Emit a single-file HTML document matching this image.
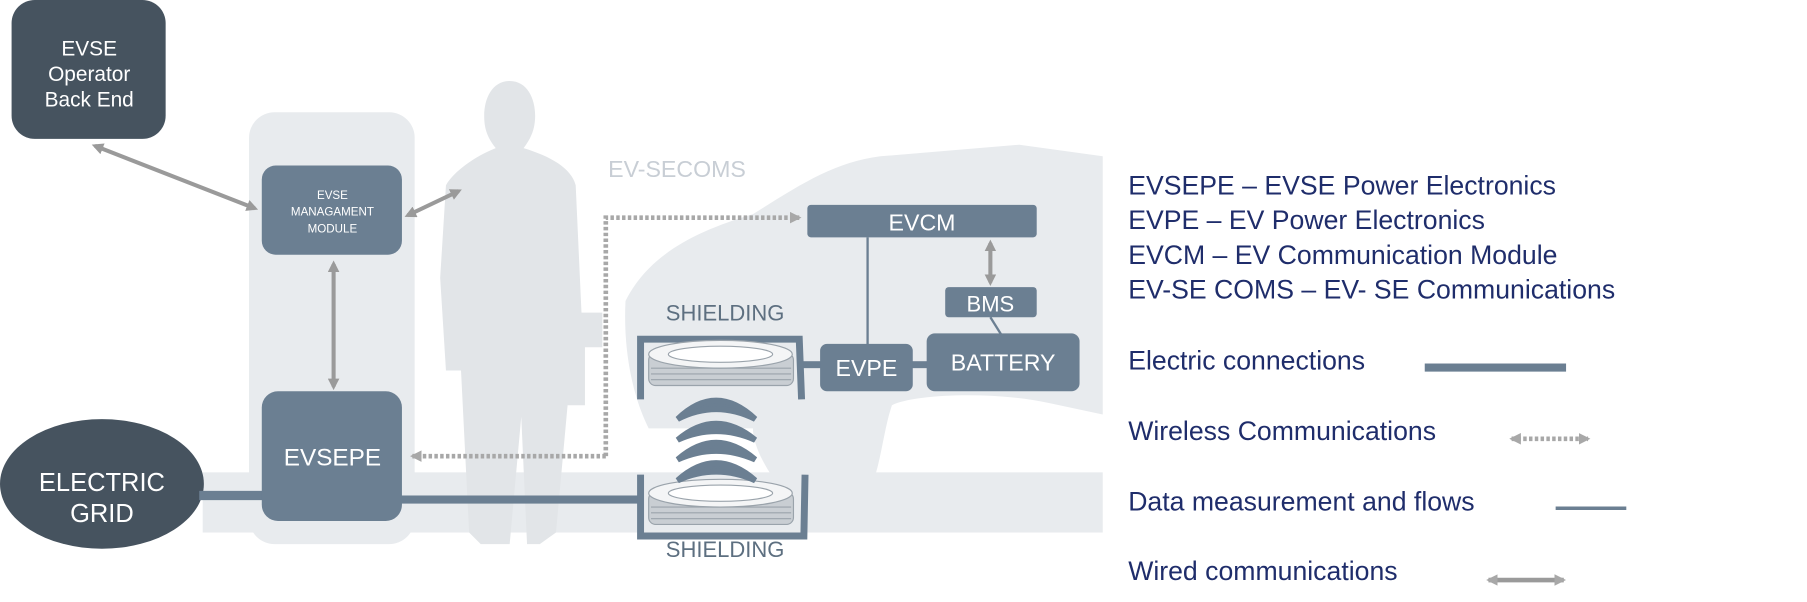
<!DOCTYPE html>
<html><head><meta charset="utf-8"><style>
html,body{margin:0;padding:0;background:#fff;width:1807px;height:602px;overflow:hidden}
svg{display:block}
text{font-family:"Liberation Sans Narrow","Liberation Sans",sans-serif}
</style></head><body>
<svg width="1807" height="602" viewBox="0 0 1560 520" preserveAspectRatio="none" xmlns="http://www.w3.org/2000/svg">
<defs>
<marker id="ga" markerWidth="10" markerHeight="10" refX="7" refY="5" orient="auto-start-reverse" markerUnits="userSpaceOnUse"><path d="M0,0 L10,5 L0,10 z" fill="#9a9a9a"/></marker>
<marker id="gb" markerWidth="10" markerHeight="10" refX="8" refY="5" orient="auto-start-reverse" markerUnits="userSpaceOnUse"><path d="M0,0 L10,5 L0,10 z" fill="#a8a8a8"/></marker>
</defs>
<rect x="215" y="97" width="143" height="373" rx="22" fill="#e8ebee"/>
<rect x="175" y="408" width="777" height="52" fill="#e8ebee"/>
<path d="M540,260 C560,220 600,200 650,185 C690,160 720,140 760,135 L880,125 L952,135 L952,358 L905,348 C860,338 790,340 770,350 C760,380 760,420 740,440 L690,440 C670,420 650,390 650,370 L560,370 C545,340 538,300 540,260 z" fill="#e8ebee"/>
<path d="M440,70 C455,70 462,85 462,100 C462,112 458,120 452,128 C475,135 493,145 497,160 L502,270 L520,270 L520,300 L505,300 L505,350 L490,350 L480,460 L466,470 L455,470 L450,360 L440,470 L415,470 L405,460 L398,320 L385,320 L380,240 L385,160 C392,148 410,135 428,128 C420,118 418,110 418,100 C418,85 425,70 440,70 z" fill="#e2e5e8"/>
<rect x="10" y="0" width="133" height="120" rx="20" fill="#46535f"/>
<g fill="#fff" font-size="18" text-anchor="middle"><text x="77" y="48">EVSE</text><text x="77" y="70">Operator</text><text x="77" y="92">Back End</text></g>
<ellipse cx="88" cy="418" rx="88" ry="56" fill="#46535f"/>
<g fill="#fff" font-size="22" text-anchor="middle"><text x="88" y="424">ELECTRIC</text><text x="88" y="451">GRID</text></g>
<rect x="172" y="424" width="60" height="8" fill="#6b7f92"/>
<rect x="345" y="428" width="208" height="7" fill="#6b7f92"/>
<rect x="693" y="312" width="18" height="6" fill="#6b7f92"/>
<rect x="786" y="312" width="16" height="6" fill="#6b7f92"/>
<rect x="226" y="143" width="121" height="77" rx="12" fill="#6b7f92"/>
<g fill="#fff" font-size="10" text-anchor="middle"><text x="287" y="172">EVSE</text><text x="287" y="186">MANAGAMENT</text><text x="287" y="201">MODULE</text></g>
<rect x="226" y="338" width="121" height="112" rx="14" fill="#6b7f92"/>
<text x="287" y="402" fill="#fff" font-size="21" text-anchor="middle">EVSEPE</text>
<g stroke="#9a9a9a" stroke-width="3.5" fill="none">
<line x1="82" y1="126" x2="220" y2="180" marker-start="url(#ga)" marker-end="url(#ga)"/>
<line x1="352" y1="186" x2="396" y2="165" marker-start="url(#ga)" marker-end="url(#ga)"/>
<line x1="288" y1="228" x2="288" y2="334" marker-start="url(#ga)" marker-end="url(#ga)"/>
<line x1="855" y1="210" x2="855" y2="244" marker-start="url(#ga)" marker-end="url(#ga)"/>
</g>
<g stroke="#a8a8a8" stroke-width="4" fill="none" stroke-dasharray="3,2">
<polyline points="523,394 523,188 690,188" marker-end="url(#gb)"/>
<line x1="523" y1="394" x2="356" y2="394" marker-end="url(#gb)"/>
</g>
<text x="525" y="153" font-size="20" fill="#c8ced5">EV-SECOMS</text>
<rect x="697" y="177" width="198" height="28" rx="3" fill="#6b7f92"/>
<text x="796" y="199" fill="#fff" font-size="20" text-anchor="middle">EVCM</text>
<line x1="749" y1="205" x2="749" y2="298" stroke="#6b7f92" stroke-width="2"/>
<rect x="816" y="248" width="79" height="26" rx="3" fill="#6b7f92"/>
<text x="855" y="269" fill="#fff" font-size="19" text-anchor="middle">BMS</text>
<line x1="855" y1="274" x2="865" y2="290" stroke="#6b7f92" stroke-width="2"/>
<rect x="708" y="297" width="80" height="41" rx="6" fill="#6b7f92"/>
<text x="748" y="325" fill="#fff" font-size="20" text-anchor="middle">EVPE</text>
<rect x="800" y="288" width="132" height="50" rx="7" fill="#6b7f92"/>
<text x="866" y="320" fill="#fff" font-size="20" text-anchor="middle">BATTERY</text>
<g font-size="19" fill="#5d6f80" text-anchor="middle"><text x="626" y="277">SHIELDING</text><text x="626" y="481">SHIELDING</text></g>
<path d="M553,345 L553,293 L690,293 L692,345" stroke="#6b7f92" stroke-width="6" fill="none"/>
<path d="M553,410 L553,463 L694,463 L695,410" stroke="#6b7f92" stroke-width="6" fill="none"/>
<g fill="#c9ced3" stroke="#9aa3ab" stroke-width="1">
<rect x="560" y="305" width="125" height="28" rx="6"/>
<ellipse cx="622" cy="306" rx="62" ry="12" fill="#f4f5f6"/>
<ellipse cx="622" cy="306" rx="45" ry="7" fill="#fff"/>
<rect x="560" y="425" width="125" height="28" rx="6"/>
<ellipse cx="622" cy="426" rx="62" ry="12" fill="#f4f5f6"/>
<ellipse cx="622" cy="426" rx="45" ry="7" fill="#fff"/>
</g>
<g stroke="#9aa3ab" stroke-width="1">
<line x1="562" y1="318" x2="683" y2="318"/><line x1="562" y1="323" x2="683" y2="323"/><line x1="562" y1="328" x2="683" y2="328"/>
<line x1="562" y1="438" x2="683" y2="438"/><line x1="562" y1="443" x2="683" y2="443"/><line x1="562" y1="448" x2="683" y2="448"/>
</g>
<g fill="#6b7f92">
<path d="M585,362 Q618,330 652,362 Q618,345 585,362 z" stroke="#6b7f92" stroke-width="5"/>
<path d="M585,380 Q618,352 652,380 Q618,365 585,380 z" stroke="#6b7f92" stroke-width="5"/>
<path d="M585,397 Q618,368 652,397 Q618,382 585,397 z" stroke="#6b7f92" stroke-width="5"/>
<path d="M585,415 Q618,385 652,415 Q618,400 585,415 z" stroke="#6b7f92" stroke-width="5"/>
</g>
<g fill="#1f2d6b" font-size="23">
<text x="974" y="168">EVSEPE – EVSE Power Electronics</text>
<text x="974" y="198">EVPE – EV Power Electronics</text>
<text x="974" y="228">EVCM – EV Communication Module</text>
<text x="974" y="258">EV-SE COMS – EV- SE Communications</text>
<text x="974" y="319">Electric connections</text>
<text x="974" y="380">Wireless Communications</text>
<text x="974" y="441">Data measurement and flows</text>
<text x="974" y="501">Wired communications</text>
</g>
<rect x="1230" y="314" width="122" height="7" fill="#6b7f92"/>
<line x1="1343" y1="439" x2="1404" y2="439" stroke="#6b7f92" stroke-width="3"/>
<line x1="1305" y1="379" x2="1371" y2="379" stroke="#a8a8a8" stroke-width="4" stroke-dasharray="3,2" marker-start="url(#gb)" marker-end="url(#gb)"/>
<line x1="1285" y1="501" x2="1350" y2="501" stroke="#9a9a9a" stroke-width="4" marker-start="url(#gb)" marker-end="url(#gb)"/>
</svg>
</body></html>
